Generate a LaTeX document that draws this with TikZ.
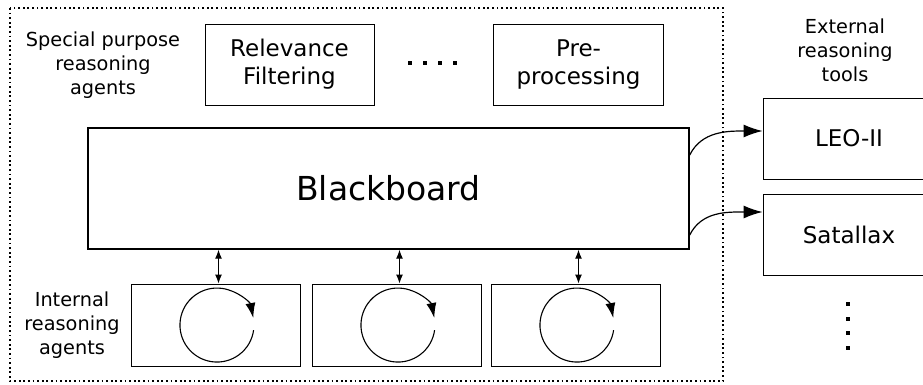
\documentclass[tikz,border=0pt]{standalone}
\usepackage{fontspec}
\setmainfont{DejaVu Sans}
\usetikzlibrary{arrows.meta}

\begin{document}
\begin{tikzpicture}[x=1pt,y=-1pt,
  box/.style={draw,line width=0.9pt,align=center,inner sep=0pt,
    font=\fontsize{23}{28}\selectfont},
  grouplabel/.style={align=center,font=\fontsize{19.3}{24}\selectfont},
  link/.style={line width=1.2pt,{Latex[length=9pt,width=7pt]}-{Latex[length=9pt,width=7pt]}},
  call/.style={line width=1.2pt,-{Latex[length=19pt,width=13pt]}},
  cycle/.style={line width=1.1pt,-{Latex[length=15pt,width=10pt]}}]

  \useasboundingbox (0,0) rectangle (923,385);

  % the system border (dotted)
  \draw[line width=1.8pt,dash pattern=on 1.8pt off 2.8pt] (10,8) rectangle (723,381);

  % special purpose agents
  \node[grouplabel] (special) at (103,65) {Special purpose\\reasoning\\agents};
  \node[box,minimum width=169pt,minimum height=81pt] (relevance) at (289.5,64.5) {Relevance\\Filtering};
  \node[box,minimum width=170pt,minimum height=81pt] (preproc) at (578.5,64.5) {Pre-\\processing};
  \foreach \i in {0,...,3}
    \fill (408+\i*15,61) rectangle +(4,4); % dots between the agents

  % the blackboard
  \node[box,line width=1.4pt,minimum width=601pt,minimum height=121pt,
    font=\fontsize{33}{40}\selectfont] (bb) at (388.5,188.5) {Blackboard};

  % internal agents, each with its own loop
  \node[grouplabel] (internal) at (72,325) {Internal\\reasoning\\agents};
  \foreach \x/\n in {215.5/agentA,396.5/agentB,575.5/agentC} {
    \node[box,minimum width=169pt,minimum height=82pt] (\n) at (\x,325) {};
    \draw[cycle] ([xshift=1.5pt]\n.center) ++(36.6,5.2) arc[start angle=8,end angle=349,radius=37];
    \draw[link] ([xshift=3pt]\n.north) -- ([xshift=3pt]\n.north |- bb.south);
  }

  % external tools
  \node[grouplabel] (external) at (845,50) {External\\reasoning\\tools};
  \node[box,minimum width=172pt,minimum height=81pt] (leo) at (849,138.5) {LEO-II};
  \node[box,minimum width=172pt,minimum height=81pt] (satallax) at (849,234.5) {Satallax};
  \foreach \i in {0,...,3}
    \fill (846,302+\i*14.7) rectangle +(4,4); % more tools

  \draw[call] ([yshift=33.5pt]bb.east) .. controls +(12,-24) and +(-35,0) .. ([yshift=7.5pt]leo.west);
  \draw[call] ([yshift=-46.5pt]bb.east) .. controls +(12,-24) and +(-35,0) .. ([yshift=22.5pt]satallax.west);

\end{tikzpicture}
\end{document}
